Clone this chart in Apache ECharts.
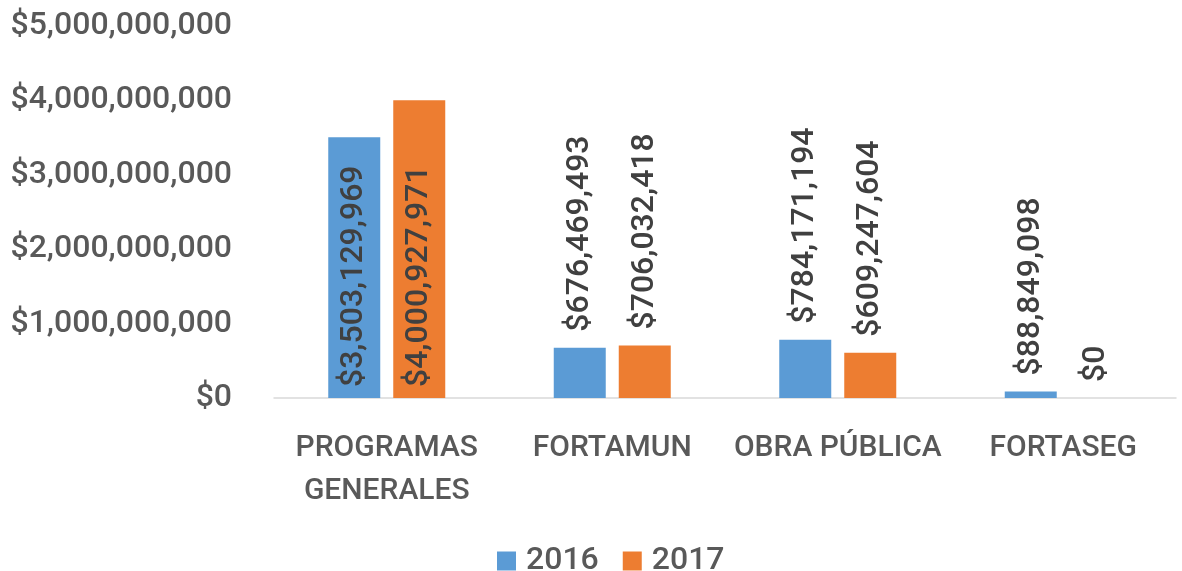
<!DOCTYPE html>
<html>
<head>
<meta charset="utf-8">
<script src="https://cdn.jsdelivr.net/npm/echarts@6/dist/echarts.min.js"></script>
<style>
  html, body { margin: 0; padding: 0; background: #fff; }
  #chart { width: 1182px; height: 571px; }
</style>
</head>
<body>
<div id="chart"></div>
<script>
var categories = ['PROGRAMAS\nGENERALES', 'FORTAMUN', 'OBRA PÚBLICA', 'FORTASEG'];
var years = ['2016', '2017'];
var values2016 = [3503129969, 676469493, 784171194, 88849098];
var values2017 = [4000927971, 706032418, 609247604, 0];

var font = 'Roboto';

function money(v) {
  return '$' + Math.round(v).toString().replace(/\B(?=(\d{3})+(?!\d))/g, ',');
}

// first group's labels sit inside the bar base, the rest above the bar
function seriesData(vals) {
  return vals.map(function (v, i) {
    if (i === 0) {
      return { value: v, label: { position: 'insideBottom', distance: 11 } };
    }
    return { value: v };
  });
}

var labelStyle = {
  show: true,
  position: 'top',
  distance: 16,
  rotate: 90,
  align: 'left',
  verticalAlign: 'middle',
  fontFamily: font,
  fontSize: 32,
  fontWeight: 500,
  color: '#404040',
  formatter: function (p) { return money(p.value); }
};

var chart = echarts.init(document.getElementById('chart'));
var option = {
  animation: false,
  textStyle: { fontFamily: font },
  color: ['#5B9BD5', '#ED7D31'],
  grid: { left: 274, right: 6, top: 26, bottom: 173 },
  legend: {
    data: years,
    top: 540,
    left: 492,
    itemWidth: 19,
    itemHeight: 19,
    itemGap: 24,
    icon: 'rect',
    textStyle: { fontFamily: font, fontSize: 32, fontWeight: 500, color: '#595959', padding: [0, 0, 0, 5] }
  },
  xAxis: {
    type: 'category',
    data: categories,
    axisLine: { lineStyle: { color: '#D9D9D9', width: 1.5 } },
    axisTick: { show: false },
    axisLabel: {
      fontFamily: font,
      fontSize: 30,
      fontWeight: 500,
      lineHeight: 43,
      color: '#595959',
      margin: 29,
      interval: 0
    }
  },
  yAxis: {
    type: 'value',
    min: 0,
    max: 5000000000,
    interval: 1000000000,
    splitLine: { show: false },
    axisLine: { show: false },
    axisTick: { show: false },
    axisLabel: {
      fontFamily: font,
      fontSize: 32,
      fontWeight: 500,
      color: '#595959',
      margin: 42,
      formatter: money
    }
  },
  series: [
    {
      name: years[0],
      type: 'bar',
      barWidth: 52,
      barGap: '25%',
      data: seriesData(values2016),
      label: labelStyle
    },
    {
      name: years[1],
      type: 'bar',
      barWidth: 52,
      barGap: '25%',
      data: seriesData(values2017),
      label: labelStyle
    }
  ]
};
chart.setOption(option);
</script>
</body>
</html>
